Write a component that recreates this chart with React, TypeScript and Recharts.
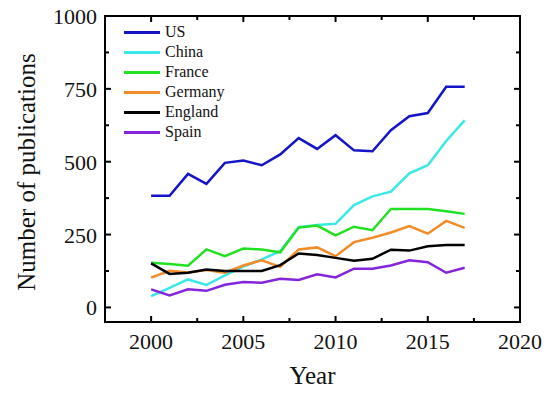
import React from 'react';
import { LineChart, Line, XAxis, YAxis, ReferenceArea } from 'recharts';

const years = [2000, 2001, 2002, 2003, 2004, 2005, 2006, 2007, 2008, 2009, 2010, 2011, 2012, 2013, 2014, 2015, 2016, 2017];
const us = [383, 383, 458, 424, 496, 504, 488, 525, 581, 544, 591, 539, 536, 608, 656, 667, 757, 757];
const china = [39, 67, 96, 77, 110, 140, 165, 193, 275, 283, 287, 351, 381, 397, 460, 488, 571, 642];
const france = [153, 149, 143, 199, 176, 202, 199, 189, 274, 281, 247, 277, 265, 338, 338, 338, 330, 321];
const germany = [102, 126, 120, 128, 119, 144, 162, 139, 199, 206, 176, 224, 239, 257, 279, 253, 297, 273];
const england = [151, 115, 119, 130, 125, 125, 125, 145, 185, 180, 170, 160, 167, 198, 195, 210, 214, 214];
const spain = [62, 41, 62, 57, 78, 87, 85, 98, 94, 114, 103, 133, 133, 144, 162, 155, 119, 136];

const xTicks = [2000, 2002.5, 2005, 2007.5, 2010, 2012.5, 2015, 2017.5, 2020];
const yTicks = [0, 125, 250, 375, 500, 625, 750, 875, 1000];

const series = [
  { key: 'US', values: us, color: '#1414c8' },
  { key: 'China', values: china, color: '#3ae8e8' },
  { key: 'France', values: france, color: '#22e022' },
  { key: 'Germany', values: germany, color: '#f28c28' },
  { key: 'England', values: england, color: '#000000' },
  { key: 'Spain', values: spain, color: '#8424dc' },
];

const data = years.map((year, i) => {
  const row: any = { year };
  series.forEach((s) => (row[s.key] = s.values[i]));
  return row;
});

const W = 550;
const H = 393;
const PLOT = { left: 105, right: 520, top: 16, bottom: 322 };
const FONT = "'Liberation Serif', 'DejaVu Serif', serif";

const XTick = (props: any) => {
  const { x, payload } = props;
  const major = payload.value % 5 === 0;
  const len = major ? 6 : 4;
  return (
    <g>
      <line x1={x} y1={PLOT.bottom} x2={x} y2={PLOT.bottom - len} stroke="#000" strokeWidth={2} />
      <line x1={x} y1={PLOT.top} x2={x} y2={PLOT.top + len} stroke="#000" strokeWidth={2} />
      {major && (
        <text x={x} y={PLOT.bottom + 27} textAnchor="middle" style={{ fontFamily: FONT }} fontSize={22} fill="#111">
          {payload.value}
        </text>
      )}
    </g>
  );
};

const YTick = (props: any) => {
  const { y, payload } = props;
  const major = payload.value % 250 === 0;
  const len = major ? 6 : 4;
  return (
    <g>
      <line x1={PLOT.left} y1={y} x2={PLOT.left + len} y2={y} stroke="#000" strokeWidth={2} />
      <line x1={PLOT.right} y1={y} x2={PLOT.right - len} y2={y} stroke="#000" strokeWidth={2} />
      {major && (
        <text x={PLOT.left - 8} y={y + 8} textAnchor="end" style={{ fontFamily: FONT }} fontSize={22} fill="#111">
          {payload.value}
        </text>
      )}
    </g>
  );
};

const LegendBox = () => (
  <div style={{ position: 'absolute', left: 124, top: 22, fontFamily: FONT, fontSize: 16, color: '#111', lineHeight: '20px' }}>
    {series.map((s) => (
      <div key={s.key} style={{ height: 20, display: 'flex', alignItems: 'center' }}>
        <span style={{ display: 'inline-block', width: 36, height: 3, background: s.color, marginRight: 5 }} />
        <span>{s.key}</span>
      </div>
    ))}
  </div>
);

export default function App() {
  return (
    <div style={{ position: 'relative', width: W, height: H, background: '#fff' }}>
      <style>{'body{margin:0}'}</style>
      <LineChart
        width={W}
        height={H}
        data={data}
        margin={{ top: PLOT.top, right: W - PLOT.right, left: 0, bottom: 0 }}
      >
        <XAxis
          dataKey="year"
          type="number"
          domain={[1997.5, 2020]}
          ticks={xTicks}
          interval={0}
          allowDataOverflow
          height={H - PLOT.bottom}
          tickSize={0}
          tick={<XTick />}
          axisLine={false}
          label={({ viewBox }: any) => (
            <text
              x={viewBox.x + viewBox.width / 2}
              y={PLOT.bottom + 62}
              textAnchor="middle"
              style={{ fontFamily: FONT }}
              fontSize={25}
              fill="#111"
            >
              Year
            </text>
          )}
        />
        <YAxis
          type="number"
          domain={[-50, 1000]}
          ticks={yTicks}
          interval={0}
          allowDataOverflow
          width={PLOT.left}
          tickSize={0}
          tick={<YTick />}
          axisLine={false}
          label={({ viewBox }: any) => {
            const cy = viewBox.y + viewBox.height / 2 + 3;
            return (
              <text
                x={26}
                y={cy}
                transform={`rotate(-90 26 ${cy})`}
                textAnchor="middle"
                dominantBaseline="central"
                style={{ fontFamily: FONT }}
                fontSize={25}
                fill="#111"
              >
                Number of publications
              </text>
            );
          }}
        />
        <ReferenceArea x1={1997.5} x2={2020} y1={-50} y2={1000} fill="none" stroke="#000" strokeWidth={2} ifOverflow="visible" />
        {series.map((s) => (
          <Line
            key={s.key}
            dataKey={s.key}
            stroke={s.color}
            strokeWidth={2.5}
            dot={false}
            type="linear"
            isAnimationActive={false}
          />
        ))}
      </LineChart>
      <LegendBox />
    </div>
  );
}
